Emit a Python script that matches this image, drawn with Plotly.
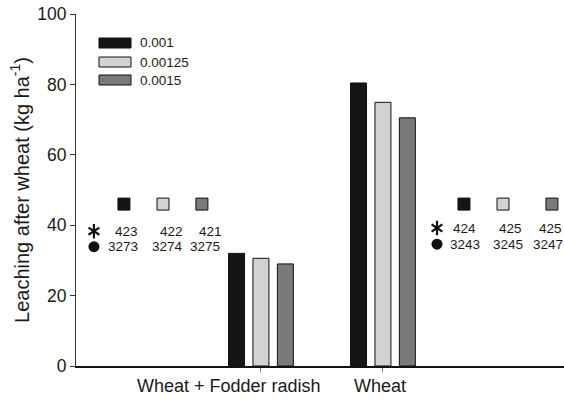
import plotly.graph_objects as go

# Leaching after wheat for each crop sequence and rate
categories = ["Wheat + Fodder radish", "Wheat"]
rates = ["0.001", "0.00125", "0.0015"]
leaching = {
    "0.001": [32.0, 80.4],
    "0.00125": [30.6, 74.9],
    "0.0015": [29.0, 70.5],
}
bar_colors = {"0.001": "#151515", "0.00125": "#d2d2d2", "0.0015": "#7a7a7a"}

# Side panels: counts shown beside each sequence (asterisk row / dot row)
star_counts_left = [423, 422, 421]
dot_counts_left = [3273, 3274, 3275]
star_counts_right = [424, 425, 425]
dot_counts_right = [3243, 3245, 3247]

# Placement of the side panels on the numeric x axis (categories at 0 and 1)
sq_x_left = [-1.123, -0.803, -0.484]
sq_x_right = [1.664, 1.984, 2.385]
star_txt_x_left = [-1.102, -0.734, -0.414]
dot_txt_x_left = [-1.131, -0.770, -0.459]
star_txt_x_right = [1.672, 2.045, 2.373]
dot_txt_x_right = [1.672, 2.025, 2.352]
sym_x = [-1.369, 1.443]
sq_y = 46
star_y = [38.3, 39.2]
dot_y = [33.9, 34.6]

FONT = "Liberation Sans, Arial, sans-serif"
xpos = list(range(len(categories)))

fig = go.Figure()
for r in rates:
    fig.add_trace(go.Bar(
        x=xpos, y=leaching[r], name=r,
        marker=dict(color=bar_colors[r], line=dict(color="#111111", width=1)),
        showlegend=False,
    ))

# coloured squares above the count rows
for xs in (sq_x_left, sq_x_right):
    fig.add_trace(go.Scatter(
        x=xs, y=[sq_y] * 3, mode="markers", showlegend=False,
        marker=dict(symbol="square", size=12,
                    color=[bar_colors[r] for r in rates],
                    line=dict(color="#111111", width=1)),
    ))

# six-armed asterisk built from two Y symbols, plus the filled dot
for sym in ("y-up-open", "y-down-open"):
    fig.add_trace(go.Scatter(
        x=sym_x, y=star_y, mode="markers", showlegend=False,
        marker=dict(symbol=sym, size=9, color="#111111",
                    line=dict(color="#111111", width=2.2)),
    ))
fig.add_trace(go.Scatter(
    x=sym_x, y=dot_y, mode="markers", showlegend=False,
    marker=dict(symbol="circle", size=11, color="#111111"),
))

annotations = []
for xs, vals, ys in ((star_txt_x_left, star_counts_left, star_y[0]),
                     (dot_txt_x_left, dot_counts_left, dot_y[0]),
                     (star_txt_x_right, star_counts_right, star_y[1]),
                     (dot_txt_x_right, dot_counts_right, dot_y[1])):
    for xv, v in zip(xs, vals):
        annotations.append(dict(
            x=xv, y=ys, xref="x", yref="y", text=str(v), showarrow=False,
            xanchor="center", yanchor="middle",
            font=dict(family=FONT, size=13.5, color="#1a1a1a"),
        ))

# category labels under the axis
cat_label_x = [-0.262, 0.975]
for xv, c in zip(cat_label_x, categories):
    annotations.append(dict(
        x=xv, y=0, xref="x", yref="paper", text=c, showarrow=False,
        xanchor="center", yanchor="top", yshift=-8,
        font=dict(family=FONT, size=18, color="#1a1a1a"),
    ))

# legend: swatches and labels
shapes = []
legend_y = [43, 62, 80]  # pixel rows from top
for r, py in zip(rates, legend_y):
    y0 = 1 - (py - 5 - 14) / (366 - 14)
    y1 = 1 - (py + 5 - 14) / (366 - 14)
    x0 = (99 - 76) / 488
    x1 = (131 - 76) / 488
    shapes.append(dict(type="rect", xref="paper", yref="paper",
                       x0=x0, x1=x1, y0=y1, y1=y0,
                       fillcolor=bar_colors[r],
                       line=dict(color="#111111", width=1)))
    annotations.append(dict(
        x=(138 - 76) / 488, y=(y0 + y1) / 2, xref="paper", yref="paper",
        text=r, showarrow=False, xanchor="left", yanchor="middle",
        font=dict(family=FONT, size=13.5, color="#1a1a1a"),
    ))

fig.update_layout(
    width=564, height=402,
    margin=dict(l=76, r=0, t=14, b=36),
    paper_bgcolor="white", plot_bgcolor="white",
    barmode="group", bargap=0.4, bargroupgap=0.345,
    font=dict(family=FONT, color="#1a1a1a"),
    annotations=annotations, shapes=shapes,
    xaxis=dict(
        range=[-1.516, 2.484], tickvals=xpos, showticklabels=False,
        ticks="outside", ticklen=4, tickcolor="#777777", tickwidth=1,
        showline=True, linecolor="#111111", linewidth=1.5,
        showgrid=False, zeroline=False,
    ),
    yaxis=dict(
        range=[0, 100], tickvals=[0, 20, 40, 60, 80, 100],
        ticks="outside", ticklen=5, tickcolor="#333333",
        tickfont=dict(family=FONT, size=17.5, color="#1a1a1a"),
        showline=True, linecolor="#333333", linewidth=1,
        showgrid=False, zeroline=False,
        title=dict(text="Leaching after wheat (kg ha<sup>-1</sup>)",
                   font=dict(family=FONT, size=20, color="#1a1a1a"),
                   standoff=2),
    ),
)

fig.write_html("out.html")
